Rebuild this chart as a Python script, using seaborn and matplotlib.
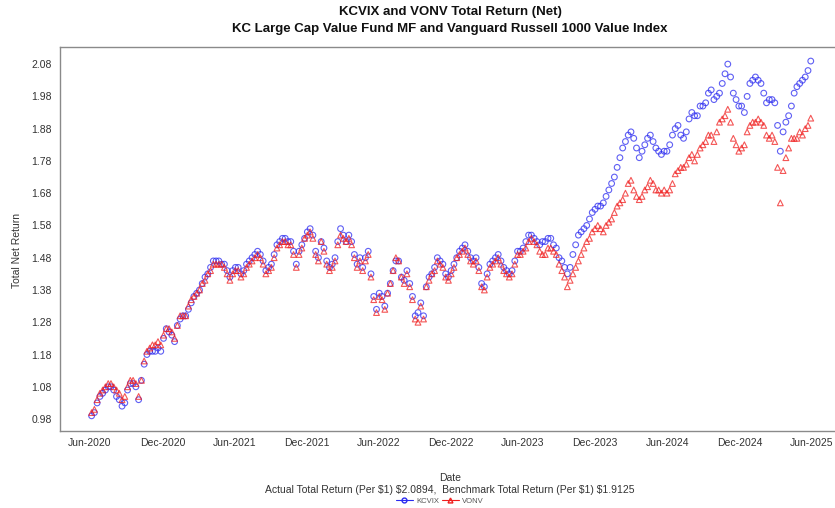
import matplotlib
matplotlib.use("Agg")
import matplotlib.pyplot as plt
import matplotlib.dates as mdates
from matplotlib.lines import Line2D
import seaborn as sns
import pandas as pd
import numpy as np

start_date = "2020-06-05"

kcvix = [
    0.99, 1.00, 1.03, 1.05, 1.06, 1.07, 1.08, 1.08, 1.07, 1.05,
    1.04, 1.02, 1.03, 1.07, 1.09, 1.09, 1.08, 1.04, 1.10, 1.15,
    1.18, 1.19, 1.19, 1.19, 1.20, 1.19, 1.23, 1.26, 1.25, 1.24,
    1.22, 1.27, 1.29, 1.30, 1.30, 1.32, 1.34, 1.36, 1.37, 1.38,
    1.40, 1.42, 1.43, 1.45, 1.47, 1.47, 1.47, 1.46, 1.46, 1.44,
    1.42, 1.44, 1.45, 1.45, 1.43, 1.44, 1.46, 1.47, 1.48, 1.49,
    1.50, 1.49, 1.47, 1.44, 1.45, 1.46, 1.49, 1.52, 1.53, 1.54,
    1.54, 1.53, 1.53, 1.50, 1.46, 1.50, 1.52, 1.54, 1.56, 1.57,
    1.55, 1.50, 1.48, 1.53, 1.51, 1.47, 1.45, 1.46, 1.48, 1.53,
    1.57, 1.55, 1.53, 1.55, 1.53, 1.49, 1.46, 1.48, 1.45, 1.48,
    1.50, 1.43, 1.36, 1.32, 1.37, 1.36, 1.33, 1.37, 1.40, 1.44,
    1.47, 1.47, 1.42, 1.41, 1.44, 1.40, 1.36, 1.30, 1.31, 1.34,
    1.30, 1.39, 1.42, 1.43, 1.45, 1.48, 1.47, 1.46, 1.43, 1.42,
    1.44, 1.46, 1.48, 1.50, 1.51, 1.52, 1.50, 1.48, 1.47, 1.48,
    1.45, 1.40, 1.39, 1.43, 1.46, 1.47, 1.48, 1.49, 1.47, 1.45,
    1.44, 1.43, 1.44, 1.47, 1.50, 1.50, 1.51, 1.53, 1.55, 1.55,
    1.54, 1.53, 1.52, 1.53, 1.53, 1.54, 1.54, 1.52, 1.51, 1.48,
    1.47, 1.45, 1.43, 1.45, 1.49, 1.52, 1.55, 1.56, 1.57, 1.58,
    1.60, 1.62, 1.63, 1.64, 1.64, 1.65, 1.67, 1.69, 1.71, 1.73,
    1.76, 1.79, 1.82, 1.84, 1.86, 1.87, 1.85, 1.82, 1.79, 1.81,
    1.83, 1.85, 1.86, 1.84, 1.82, 1.81, 1.80, 1.81, 1.81, 1.83,
    1.86, 1.88, 1.89, 1.86, 1.85, 1.87, 1.91, 1.93, 1.92, 1.92,
    1.95, 1.95, 1.96, 1.99, 2.00, 1.97, 1.98, 1.99, 2.02, 2.05,
    2.08, 2.04, 1.99, 1.97, 1.95, 1.95, 1.93, 1.98, 2.02, 2.03,
    2.04, 2.03, 2.02, 1.99, 1.96, 1.97, 1.97, 1.96, 1.89, 1.81,
    1.87, 1.90, 1.92, 1.95, 1.99, 2.01, 2.02, 2.03, 2.04, 2.06, 2.0894,
]

vonv = [
    1.00, 1.01, 1.04, 1.06, 1.07, 1.08, 1.09, 1.09, 1.08, 1.07,
    1.06, 1.04, 1.05, 1.08, 1.10, 1.10, 1.09, 1.05, 1.10, 1.16,
    1.19, 1.20, 1.21, 1.21, 1.22, 1.21, 1.24, 1.26, 1.26, 1.25,
    1.23, 1.27, 1.30, 1.30, 1.30, 1.33, 1.35, 1.36, 1.37, 1.38,
    1.40, 1.41, 1.43, 1.44, 1.46, 1.46, 1.46, 1.46, 1.45, 1.43,
    1.41, 1.43, 1.44, 1.44, 1.42, 1.43, 1.45, 1.46, 1.47, 1.48,
    1.49, 1.48, 1.46, 1.43, 1.44, 1.45, 1.48, 1.51, 1.52, 1.53,
    1.53, 1.52, 1.52, 1.49, 1.45, 1.49, 1.51, 1.54, 1.55, 1.56,
    1.54, 1.49, 1.47, 1.53, 1.50, 1.46, 1.44, 1.45, 1.47, 1.52,
    1.55, 1.54, 1.53, 1.54, 1.52, 1.48, 1.45, 1.47, 1.44, 1.47,
    1.49, 1.42, 1.35, 1.31, 1.36, 1.35, 1.32, 1.37, 1.40, 1.44,
    1.48, 1.47, 1.42, 1.40, 1.43, 1.39, 1.35, 1.29, 1.28, 1.33,
    1.29, 1.39, 1.41, 1.43, 1.44, 1.47, 1.46, 1.45, 1.42, 1.41,
    1.43, 1.45, 1.48, 1.49, 1.50, 1.51, 1.49, 1.47, 1.46, 1.47,
    1.44, 1.39, 1.38, 1.42, 1.45, 1.46, 1.47, 1.48, 1.46, 1.44,
    1.43, 1.42, 1.43, 1.46, 1.49, 1.49, 1.50, 1.51, 1.53, 1.54,
    1.53, 1.52, 1.50, 1.49, 1.49, 1.51, 1.51, 1.50, 1.49, 1.46,
    1.44, 1.42, 1.39, 1.41, 1.43, 1.45, 1.47, 1.49, 1.51, 1.53,
    1.54, 1.56, 1.57, 1.58, 1.57, 1.56, 1.58, 1.59, 1.60, 1.62,
    1.64, 1.65, 1.66, 1.68, 1.71, 1.72, 1.69, 1.67, 1.66, 1.67,
    1.69, 1.70, 1.72, 1.71, 1.69, 1.69, 1.68, 1.69, 1.68, 1.69,
    1.71, 1.74, 1.75, 1.76, 1.76, 1.77, 1.79, 1.80, 1.78, 1.80,
    1.82, 1.83, 1.84, 1.86, 1.86, 1.84, 1.87, 1.90, 1.91, 1.92,
    1.94, 1.90, 1.85, 1.83, 1.81, 1.82, 1.83, 1.87, 1.89, 1.90,
    1.90, 1.91, 1.90, 1.89, 1.86, 1.85, 1.86, 1.84, 1.76, 1.65,
    1.75, 1.79, 1.82, 1.85, 1.85, 1.85, 1.87, 1.86, 1.88, 1.89, 1.9125,
]

series_names = ["KCVIX", "VONV"]
series_colors = ["#2a2af0", "#f01e1e"]
series_markers = ["o", "^"]
y_ticks = [0.98, 1.08, 1.18, 1.28, 1.38, 1.48, 1.58, 1.68, 1.78, 1.88, 1.98, 2.08]
x_tick_dates = ["2020-06-01", "2020-12-01", "2021-06-01", "2021-12-01", "2022-06-01",
                "2022-12-01", "2023-06-01", "2023-12-01", "2024-06-01", "2024-12-01",
                "2025-06-01"]

title_1 = "KCVIX and VONV Total Return (Net)"
title_2 = "KC Large Cap Value Fund MF and Vanguard Russell 1000 Value Index"
caption = "Actual Total Return (Per $1) $2.0894,  Benchmark Total Return (Per $1) $1.9125"

dates = pd.date_range(start_date, periods=len(kcvix), freq="7D")
df = pd.DataFrame({"Date": dates, "KCVIX": kcvix, "VONV": vonv})

sns.set_theme(style="white")
plt.rcParams["font.family"] = ["Liberation Sans", "DejaVu Sans"]

fig = plt.figure(figsize=(8.35, 5.08), dpi=100)
ax = fig.add_axes([60 / 835, 1 - 431 / 508, 780 / 835, (431 - 47) / 508])

for name, col, mk in zip(series_names, series_colors, series_markers):
    sns.scatterplot(data=df, x="Date", y=name, ax=ax, marker=mk, s=17,
                    legend=False, zorder=3)
    coll = ax.collections[-1]
    coll.set_facecolor("none")
    coll.set_edgecolor(col)
    coll.set_linewidth(0.8)
    coll.set_alpha(0.75)

ax.set_xlim(pd.Timestamp("2020-03-17"), pd.Timestamp("2025-08-12"))
ax.set_ylim(0.943, 2.133)
ax.set_yticks(y_ticks)
ax.set_yticklabels([f"{v:.2f}" for v in y_ticks])
ax.set_xticks(pd.to_datetime(x_tick_dates))
ax.xaxis.set_major_formatter(mdates.DateFormatter("%b-%Y"))

for s in ax.spines.values():
    s.set_color("#8a8a8a")
    s.set_linewidth(1.0)
ax.tick_params(axis="both", which="major", direction="out", length=4, width=0.8,
               color="#8a8a8a", labelsize=7.5, labelcolor="#333333", pad=2)
ax.tick_params(axis="x", pad=1)
ax.set_xlabel("")
ax.set_ylabel("")

fig.text(17 / 835, 1 - 250 / 508, "Total Net Return", rotation=90, ha="center",
         va="center", fontsize=7.5, color="#333333")
fig.text(450 / 835, 1 - 12 / 508, title_1, ha="center", va="center",
         fontsize=9.5, fontweight="bold", color="#111111")
fig.text(450 / 835, 1 - 29 / 508, title_2, ha="center", va="center",
         fontsize=9.5, fontweight="bold", color="#111111")
fig.text(450 / 835, 1 - 478 / 508, "Date", ha="center", va="center",
         fontsize=7.5, color="#333333")
fig.text(450 / 835, 1 - 490 / 508, caption.replace("$", r"\$"), ha="center", va="center",
         fontsize=7.5, color="#333333")

handles = [Line2D([0], [0], color=c, marker=m, markerfacecolor="none",
                  markeredgecolor=c, markersize=3.5, linewidth=0.8)
           for c, m in zip(series_colors, series_markers)]
fig.legend(handles, series_names, loc="center", bbox_to_anchor=(440 / 835, 1 - 501 / 508),
           ncol=2, frameon=False, fontsize=5.5, handlelength=2.2, columnspacing=0.3,
           handletextpad=0.5, labelcolor="#555555")

fig.savefig("out.png", dpi=100)
